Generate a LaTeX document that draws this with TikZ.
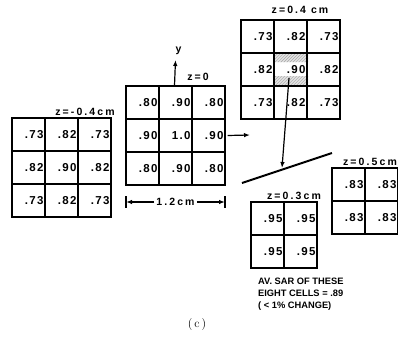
\documentclass[tikz,border=0pt]{standalone}
\usepackage{fontspec}
\usetikzlibrary{arrows.meta,patterns}
\newfontfamily\gridfont[LetterSpace=12]{Liberation Sans}
\newfontfamily\labfont[LetterSpace=20]{Liberation Sans}
\newfontfamily\notefont{Liberation Sans}
\tikzset{
  cell/.style={draw, line width=1.1bp, minimum width=33bp, minimum height=33bp,
    text width=30bp, align=right, inner sep=1.5bp, font=\gridfont\bfseries\fontsize{11.5bp}{13bp}\selectfont},
  zlabel/.style={font=\labfont\bfseries\fontsize{10.5bp}{12bp}\selectfont, inner sep=0pt},
  conn/.style={line width=1.2bp, -{Latex[length=6bp,width=4.5bp]}},
  note/.style={font=\notefont\bfseries\fontsize{9.3bp}{12bp}\selectfont, align=left, inner sep=0pt}
}
\begin{document}
\begin{tikzpicture}[x=1bp,y=-1bp]
\useasboundingbox (0,0) rectangle (398,349);
\fill[white] (0,0) rectangle (398,349);
% grid A: z=-0.4cm
\foreach \v [count=\i from 0] in {.73,.82,.73,.82,.90,.82,.73,.82,.73}{
  \pgfmathtruncatemacro\c{mod(\i,3)}\pgfmathtruncatemacro\r{div(\i,3)}
  \node[cell] (A-\i) at ({12+16.5+33*\c},{118+16.5+33*\r}) {\v};
}
\node[zlabel] (zA) at (85,112) {z=-0.4cm};
% grid B: z=0
\foreach \v [count=\i from 0] in {.80,.90,.80,.90,1.0,.90,.80,.90,.80}{
  \pgfmathtruncatemacro\c{mod(\i,3)}\pgfmathtruncatemacro\r{div(\i,3)}
  \node[cell] (B-\i) at ({126+16.5+33*\c},{86+16.5+33*\r}) {\v};
}
\node[zlabel] (zB) at (198,77) {z=0};
% y axis
\coordinate (ytip) at (175.5,60);
\draw[conn] (B-1.north) ++(-1,0) coordinate (ybase) -- (ytip);
\node[zlabel] (ylab) at (178.5,51) {y};
% dimension
\node[zlabel, fill=white, inner xsep=2bp] (dim) at (175.5,202) {1.2cm};
\coordinate (dl) at (126,202);
\coordinate (dr) at (225,202);
\draw[line width=1.1bp] (126,196) -- (126,208) (225,196) -- (225,208);
\draw[conn] (dim.west) -- (dl);
\draw[conn] (dim.east) -- (dr);
% grid C: z=0.4 cm
\fill[gray!22] (275,53.5) rectangle (308,62) (275,76) rectangle (308,85.5);
\fill[pattern=north east lines, pattern color=gray!70] (275,53.5) rectangle (308,62) (275,76) rectangle (308,85.5);
\foreach \v [count=\i from 0] in {.73,.82,.73,.82,.90,.82,.73,.82,.73}{
  \pgfmathtruncatemacro\c{mod(\i,3)}\pgfmathtruncatemacro\r{div(\i,3)}
  \node[cell] (C-\i) at ({241+16.5+33*\c},{20+16.5+33*\r}) {\v};
}
\node[zlabel] (zC) at (300,10) {z=0.4\hspace{5bp}cm};
% arrow from middle grid
\coordinate (rtip) at (250,135);
\draw[conn] (B-5.east) ++(2,0) -- (rtip);
% arrow down from hatched cell
\coordinate (dstart) at (289,78);
\coordinate (dtip) at (282,168);
\draw[conn] (dstart) -- (dtip);
% diagonal line
\coordinate (dg1) at (242,183);
\coordinate (dg2) at (332,153);
\draw[line width=2bp] (dg1) -- (dg2);
% grid D: z=0.3cm
\foreach \v [count=\i from 0] in {.95,.95,.95,.95}{
  \pgfmathtruncatemacro\c{mod(\i,2)}\pgfmathtruncatemacro\r{div(\i,2)}
  \node[cell] (D-\i) at ({251+16.5+33*\c},{202+16.5+33*\r}) {\v};
}
\node[zlabel] (zD) at (294,196) {z=0.3cm};
% grid E: z=0.5cm
\foreach \v [count=\i from 0] in {.83,.83,.83,.83}{
  \pgfmathtruncatemacro\c{mod(\i,2)}\pgfmathtruncatemacro\r{div(\i,2)}
  \node[cell] (E-\i) at ({332+16.5+33*\c},{168+16.5+33*\r}) {\v};
}
\node[zlabel] (zE) at (370,162) {z=0.5cm};
% note
\node[note, anchor=north west] (note) at (258,278) {AV. SAR OF THESE\\EIGHT CELLS = .89\\( < 1\% CHANGE)};
% caption
\node[font=\fontsize{12bp}{14bp}\selectfont] (cap) at (197,325) {(\,c\,)};
\end{tikzpicture}
\end{document}
